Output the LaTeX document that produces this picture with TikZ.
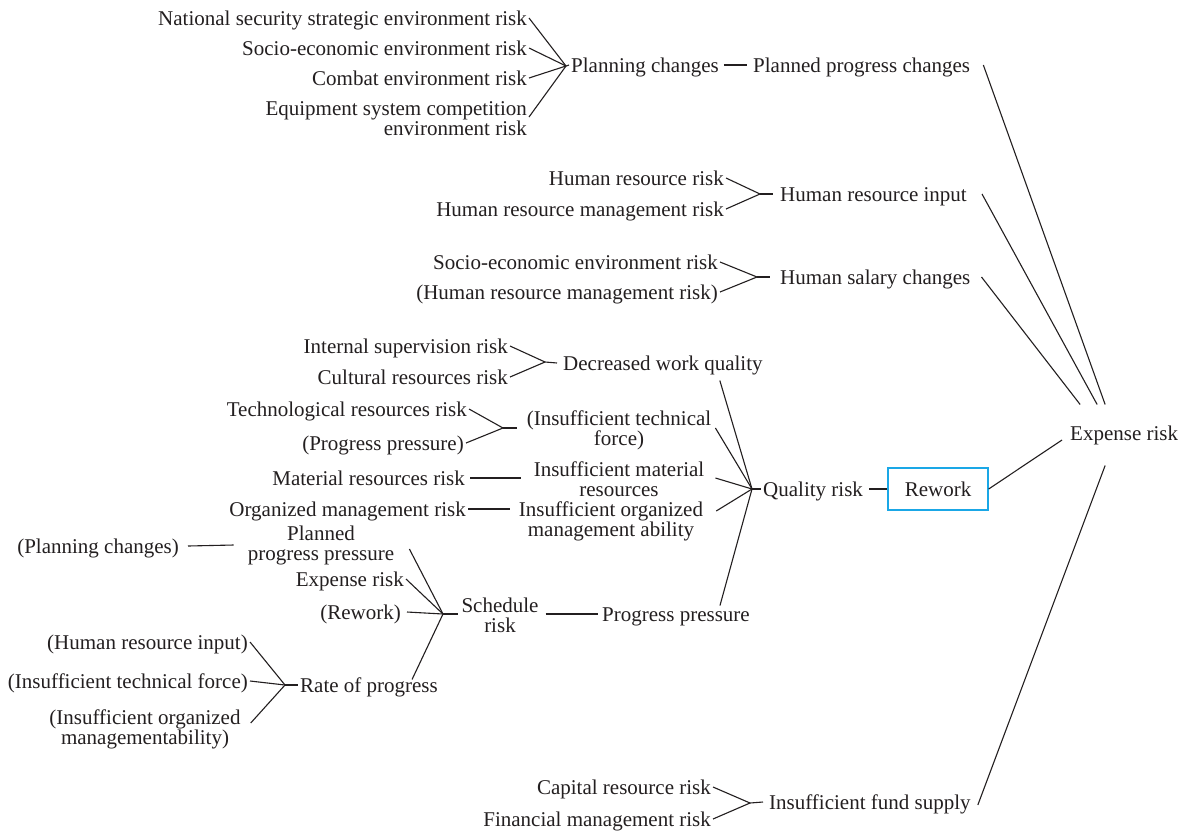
\documentclass[tikz,border=0pt]{standalone}
\usepackage{fontspec}
\setmainfont{Liberation Serif}
\definecolor{ink}{HTML}{231F20}
\definecolor{boxblue}{HTML}{1AA7E6}
\begin{document}
\begin{tikzpicture}[x=1pt,y=-1pt,
  every node/.style={font=\fontsize{21}{20}\selectfont, text=ink, inner sep=2pt},
  one/.style={text height=17pt, text depth=1.6pt},
  two/.style={align=center},
  tworight/.style={align=right},
  wire/.style={draw=ink, line width=1.1pt},
  framed/.style={one, draw=boxblue, line width=1.3pt, minimum width=100pt, minimum height=42pt}]
\fill[white] (0,0) rectangle (1189,831);
\useasboundingbox (0,0) rectangle (1189,831);

% ---- planning changes ----
\node[one, anchor=east] (n1) at (529,18) {National security strategic environment risk};
\node[one, anchor=east] (n2) at (529,48) {Socio-economic environment risk};
\node[one, anchor=east] (n3) at (529,78) {Combat environment risk};
\node[tworight, anchor=east] (n4) at (529,119) {Equipment system competition\\environment risk};
\coordinate (jpc) at (566,66);
\node[one, anchor=west] (pc) at (569,65) {Planning changes};
\node[one, anchor=west] (ppc) at (751,65) {Planned progress changes};
\draw[wire] (n1.east) -- (jpc);
\draw[wire] (n2.east) -- (jpc);
\draw[wire] (n3.east) -- (jpc);
\draw[wire] ([yshift=2pt]n4.east) -- (jpc);
\draw[wire] (jpc) -- (pc.west);
\draw[wire] ([xshift=3pt]pc.east) -- ([xshift=-4pt]ppc.west);

% ---- human resource input ----
\node[one, anchor=east] (h1) at (726,178) {Human resource risk};
\node[one, anchor=east] (h2) at (726,209) {Human resource management risk};
\coordinate (jhi) at (760,194);
\node[one, anchor=west] (hri) at (778,194) {Human resource input};
\draw[wire] (h1.east) -- (jhi);
\draw[wire] (h2.east) -- (jhi);
\draw[wire] (jhi) -- ([xshift=-5pt]hri.west);

% ---- human salary changes ----
\node[one, anchor=east] (s1) at (720,262) {Socio-economic environment risk};
\node[one, anchor=east] (s2) at (720,292) {(Human resource management risk)};
\coordinate (jhs) at (757,277);
\node[one, anchor=west] (hsc) at (778,277) {Human salary changes};
\draw[wire] (s1.east) -- (jhs);
\draw[wire] (s2.east) -- (jhs);
\draw[wire] (jhs) -- ([xshift=-8pt]hsc.west);

% ---- decreased work quality ----
\node[one, anchor=east] (d1) at (510,346) {Internal supervision risk};
\node[one, anchor=east] (d2) at (510,377) {Cultural resources risk};
\coordinate (jdw) at (545,362);
\node[one, anchor=west] (dwq) at (561,363) {Decreased work quality};
\draw[wire] (d1.east) -- (jdw);
\draw[wire] (d2.east) -- (jdw);
\draw[wire] (jdw) -- ([xshift=-4pt]dwq.west);

% ---- insufficient technical force ----
\node[one, anchor=east] (t1) at (469,409) {Technological resources risk};
\node[one, anchor=east] (t2) at (466,443) {(Progress pressure)};
\coordinate (jtf) at (503,428);
\node[two] (itf) at (619,430.5) {(Insufficient technical\\force)};
\draw[wire] (t1.east) -- (jtf);
\draw[wire] (t2.east) -- (jtf);
\draw[wire] (jtf) -- ([shift={(-8,-2.5)}]itf.west);

% ---- material and organisation ----
\node[one, anchor=east] (mr) at (467,478) {Material resources risk};
\node[two] (ims) at (619,479) {Insufficient material\\resources};
\draw[wire] ([xshift=3pt]mr.east) -- ([shift={(-11,-1)}]ims.west);
\node[one, anchor=east] (om) at (468,509) {Organized management risk};
\node[two] (iom) at (611,521) {Insufficient organized\\management ability};
\draw[wire] (om.east) -- ([xshift=42pt]om.east);

% ---- quality risk and rework ----
\coordinate (jq) at (752,489);
\node[one, anchor=west] (qr) at (761,489) {Quality risk};
\node[framed] (rw) at (938,489) {Rework};
\node[one, anchor=west] (pp) at (600,614) {Progress pressure};
\draw[wire] ([shift={(-45,6)}]dwq.south east) -- (jq);
\draw[wire] ([shift={(2,-2.5)}]itf.east) -- (jq);
\draw[wire] ([shift={(9,-1)}]ims.east) -- (jq);
\draw[wire] ([shift={(11,-10)}]iom.east) -- (jq);
\draw[wire] ([shift={(44,3)}]pp.north) -- (jq);
\draw[wire] (jq) -- (qr.west);
\draw[wire] ([xshift=4pt]qr.east) -- (rw.west);

% ---- expense risk ----
\node[one, anchor=west] (er) at (1068,433) {Expense risk};
\draw[wire] (rw.east) -- ([shift={(-6,7)}]er.west);
\draw[wire] ([xshift=11pt]ppc.east) -- ([shift={(-19,-17)}]er.north);
\draw[wire] ([xshift=13pt]hri.east) -- ([shift={(-27,-17)}]er.north);
\draw[wire] ([xshift=9pt]hsc.east) -- ([shift={(-44,-17)}]er.north);

% ---- schedule risk ----
\node[one, anchor=east] (pcs) at (181,546) {(Planning changes)};
\node[two] (ppr) at (321,545.5) {Planned\\progress pressure};
\node[one, anchor=east] (er2) at (406,579) {Expense risk};
\node[one, anchor=east] (rwk) at (403,612) {(Rework)};
\coordinate (js) at (443,614);
\node[two] (sr) at (500,615) {Schedule\\risk};
\node[one, anchor=west] (rop) at (298,685) {Rate of progress};
\draw[wire] ([xshift=7pt]pcs.east) -- ([shift={(-12,-0.5)}]ppr.west);
\draw[wire] ([shift={(13,3.5)}]ppr.east) -- (js);
\draw[wire] (er2.east) -- (js);
\draw[wire] ([xshift=4pt]rwk.east) -- (js);
\draw[wire] ([shift={(-28,6)}]rop.north east) -- (js);
\draw[wire] (js) -- ([shift={(-1,-1)}]sr.west);
\draw[wire] ([shift={(5,-1)}]sr.east) -- ([xshift=-2pt]pp.west);

% ---- rate of progress ----
\node[one, anchor=east] (r1) at (250,642) {(Human resource input)};
\node[one, anchor=east] (r2) at (250,681) {(Insufficient technical force)};
\node[two] (r3) at (145,729) {(Insufficient organized\\managementability)};
\coordinate (jr) at (285,685);
\draw[wire] (r1.east) -- (jr);
\draw[wire] (r2.east) -- (jr);
\draw[wire] ([shift={(8,-6)}]r3.east) -- (jr);
\draw[wire] (jr) -- (rop.west);

% ---- fund supply ----
\node[one, anchor=east] (f1) at (713,787) {Capital resource risk};
\node[one, anchor=east] (f2) at (713,819) {Financial management risk};
\coordinate (jf) at (750,803);
\node[one, anchor=west] (ifs) at (767,802) {Insufficient fund supply};
\draw[wire] (f1.east) -- (jf);
\draw[wire] (f2.east) -- (jf);
\draw[wire] (jf) -- ([xshift=-4pt]ifs.west);
\draw[wire] ([shift={(5,3)}]ifs.east) -- ([shift={(-19,21)}]er.south);
\end{tikzpicture}
\end{document}
